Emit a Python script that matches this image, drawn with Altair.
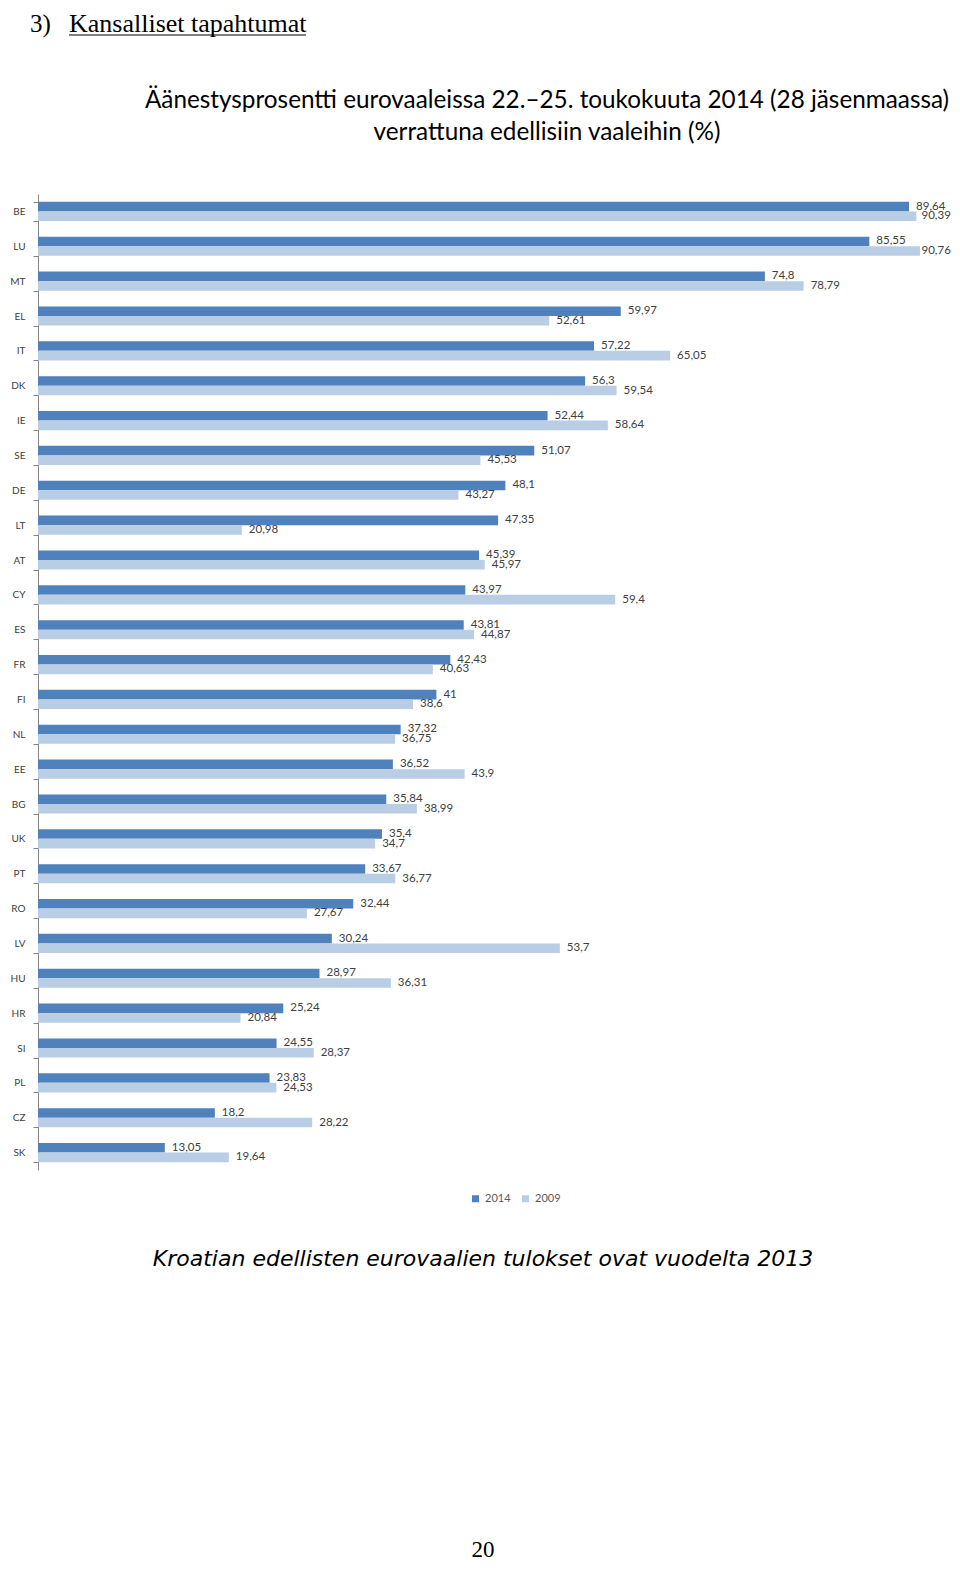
import altair as alt
import pandas as pd

countries = ["BE", "LU", "MT", "EL", "IT", "DK", "IE", "SE", "DE", "LT", "AT", "CY", "ES", "FR",
             "FI", "NL", "EE", "BG", "UK", "PT", "RO", "LV", "HU", "HR", "SI", "PL", "CZ", "SK"]
v2014 = [89.64, 85.55, 74.8, 59.97, 57.22, 56.3, 52.44, 51.07, 48.1, 47.35, 45.39, 43.97, 43.81, 42.43,
         41, 37.32, 36.52, 35.84, 35.4, 33.67, 32.44, 30.24, 28.97, 25.24, 24.55, 23.83, 18.2, 13.05]
v2009 = [90.39, 90.76, 78.79, 52.61, 65.05, 59.54, 58.64, 45.53, 43.27, 20.98, 45.97, 59.4, 44.87, 40.63,
         38.6, 36.75, 43.9, 38.99, 34.7, 36.77, 27.67, 53.7, 36.31, 20.84, 28.37, 24.53, 28.22, 19.64]
years = ["2014", "2009"]

rows = []
for c, a, b in zip(countries, v2014, v2009):
    for yr, v in (("2014", a), ("2009", b)):
        rows.append({"maa": c, "vuosi": yr, "arvo": v, "teksti": f"{v:g}".replace(".", ",")})
df = pd.DataFrame(rows)

FONT = "Lato"
W, H = 894, 976

y_enc = alt.Y("maa:N", sort=countries, title=None,
              scale=alt.Scale(paddingInner=0.45, paddingOuter=0.225),
              axis=alt.Axis(domainColor="#868686", tickColor="#868686", tickSize=5,
                            tickBand="extent", labelPadding=8, labelFontSize=10,
                            labelColor="#404040", labelFont=FONT, grid=False))
x_scale = alt.Scale(domain=[0, 92], nice=False)
yo_enc = alt.YOffset("vuosi:N", sort=years)

base = alt.Chart(df)
bars = base.mark_bar().encode(
    y=y_enc, x=alt.X("arvo:Q", scale=x_scale, axis=None), yOffset=yo_enc,
    color=alt.Color("vuosi:N", sort=years,
                    scale=alt.Scale(domain=years, range=["#4F81BD", "#B9CDE5"]),
                    legend=alt.Legend(title=None, orient="none", legendX=432, legendY=999,
                                      direction="horizontal", symbolType="square",
                                      symbolSize=49, symbolStrokeWidth=0,
                                      labelFontSize=11, labelColor="#595959",
                                      labelFont=FONT, columnPadding=9)),
)
# labels near the right page edge are pulled in slightly so they stay inside the page
labels = base.transform_calculate(
    lx="min(datum.arvo, 90.2)"
).mark_text(align="left", baseline="middle", dx=7, fontSize=11.5,
            font=FONT, color="#404040").encode(
    y=alt.Y("maa:N", sort=countries), x=alt.X("lx:Q", scale=x_scale, axis=None),
    yOffset=yo_enc, text="teksti:N")

one = pd.DataFrame({"k": [0]})


def txt(s, x, y, size, font, align="center", style="normal", color="#000000"):
    return alt.Chart(one).mark_text(text=s, align=align, baseline="alphabetic", fontSize=size,
                                    font=font, fontStyle=style, color=color).encode(
        x=alt.value(x), y=alt.value(y))


header_num = txt("3)", -8, -162, 25, "Liberation Serif", align="left")
header = txt("Kansalliset tapahtumat", 31, -162, 26, "Liberation Serif", align="left")
underline = alt.Chart(one).mark_rule(color="#000000", strokeWidth=1.2).encode(
    x=alt.value(31), x2=alt.value(268), y=alt.value(-159))
title1 = txt("Äänestysprosentti eurovaaleissa 22.–25. toukokuuta 2014 (28 jäsenmaassa)", 509, -86, 24.3, FONT)
title2 = txt("verrattuna edellisiin vaaleihin (%)", 509, -54, 24.3, FONT)
footer = txt("Kroatian edellisten eurovaalien tulokset ovat vuodelta 2013", 445, 1072, 22,
             "DejaVu Sans", style="italic")
pagenum = txt("20", 445, 1363, 23, "Liberation Serif")

chart = alt.layer(bars, labels, header_num, header, underline, title1, title2, footer, pagenum).properties(
    width=W, height=H,
    autosize=alt.AutoSizeParams(type="none"),
    padding={"left": 30, "top": 186, "right": 20, "bottom": 395},
).configure(background="#ffffff").configure_view(stroke=None)

chart.save("out.html", embed_options={"renderer": "svg", "actions": False})
